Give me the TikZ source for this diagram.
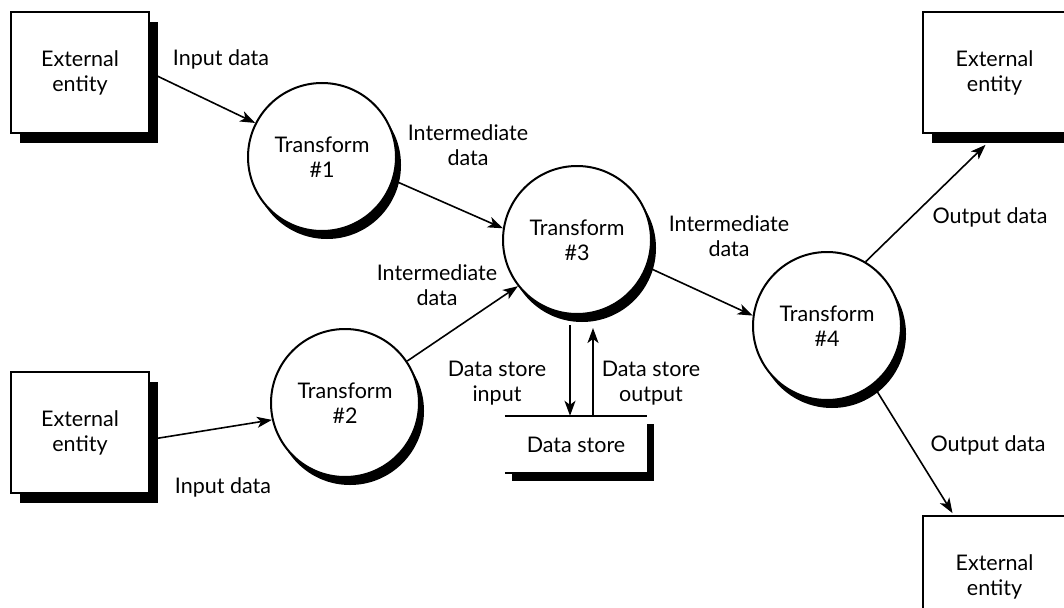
\documentclass[tikz,border=0pt]{standalone}
\usepackage{fontspec}
\setmainfont{Lato}
\usetikzlibrary{arrows.meta,shadows,calc}
\begin{document}
\begin{tikzpicture}[x=1pt,y=-1pt,
  font=\fontsize{21.5}{25}\selectfont,
  ent/.style={draw, line width=1.8pt, fill=white, minimum width=138pt, minimum height=121pt,
    align=center, inner sep=0pt,
    drop shadow={shadow xshift=9pt, shadow yshift=-10pt, fill=black, opacity=1}},
  entr/.style={ent, minimum width=143pt},
  proc/.style={circle, draw, line width=2pt, fill=white, minimum size=148pt, align=center,
    inner sep=0pt,
    drop shadow={shadow xshift=5pt, shadow yshift=-8pt, fill=black, opacity=1}},
  lab/.style={align=center, inner sep=0pt},
  arr/.style={-{Stealth[length=15pt,width=11pt,inset=4pt]}, line width=1.6pt},
  storeline/.style={line width=1.8pt}]
\useasboundingbox (0,0) rectangle (1064,607);
\clip (0,0) rectangle (1064,607);

% external entities
\node[ent] (ext1) at (80,72.5) {External\\entity};
\node[ent] (ext2) at (80,432.5) {External\\entity};
\node[entr] (ext3) at (994.5,72.5) {External\\entity};
\node[entr] (ext4) at (994.5,576.5) {External\\entity};

% transforms
\node[proc] (t1) at (322,157) {Transform\\\#1};
\node[proc] (t2) at (345,403) {Transform\\\#2};
\node[proc] (t3) at (577,240) {Transform\\\#3};
\node[proc] (t4) at (827,326) {Transform\\\#4};

% data store
\node[lab, minimum width=142pt, minimum height=57pt, fill=white,
  general shadow={shadow xshift=7pt, shadow yshift=-8pt, fill=black, opacity=1}]
  (ds) at (576,444.5) {Data store};
\draw[storeline] (ds.north west) -- (ds.north east);
\draw[storeline] (ds.south west) -- (ds.south east);

% connectors
\draw[arr] (ext1.east) -- (t1.153);
\draw[arr] ($(ext2.east)+(0,7)$) -- (t2.193);
\draw[arr] (t1.-18) -- (t3.171);
\draw[arr] (t2.34) -- (t3.218);
\draw[arr] (t3.-21) -- (t4.172);
\draw[arr] (t4.59) -- ($(ext3.south)+(-9,11)$);
\draw[arr] (t4.-52) -- ($(ext4.north)+(-42,-2)$);
\draw[arr] ($(t3.south)+(-7,10)$) -- ($(ds.north)+(-6,0)$);
\draw[arr] ($(ds.north)+(17,0)$) -- ($(t3.south)+(16,13)$);

% labels
\node[lab] (lin1) at (221,59) {Input data};
\node[lab] (lin2) at (223,487) {Input data};
\node[lab] (lim1) at (468,145) {Intermediate\\data};
\node[lab] (lim2) at (437,285) {Intermediate\\data};
\node[lab] (lim3) at (729,236) {Intermediate\\data};
\node[lab] (lout1) at (990,217) {Output data};
\node[lab] (lout2) at (988,445) {Output data};
\node[lab] (ldsi) at (497,383) {Data store\\input};
\node[lab] (ldso) at (651,383) {Data store\\output};
\end{tikzpicture}
\end{document}
